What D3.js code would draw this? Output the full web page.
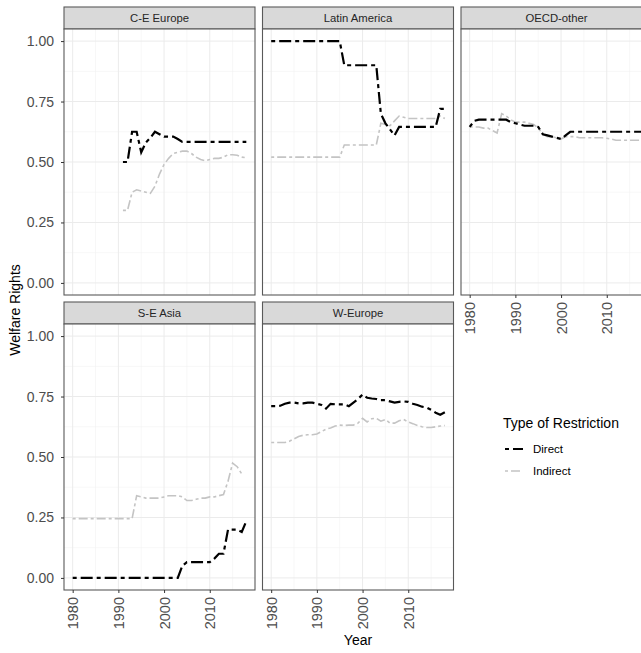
<!DOCTYPE html>
<html>
<head>
<meta charset="utf-8">
<script src="https://cdn.jsdelivr.net/npm/d3@7"></script>
<style>
  body { margin: 0; background: #fff; }
  svg { display: block; font-family: "Liberation Sans", Arial, sans-serif; }
</style>
</head>
<body>
<svg id="chart" width="641" height="653"></svg>
<script>

// years on the x axis (1980 - 2018)
var years = [1980, 1981, 1982, 1983, 1984, 1985, 1986, 1987, 1988, 1989,
             1990, 1991, 1992, 1993, 1994, 1995, 1996, 1997, 1998, 1999,
             2000, 2001, 2002, 2003, 2004, 2005, 2006, 2007, 2008, 2009,
             2010, 2011, 2012, 2013, 2014, 2015, 2016, 2017, 2018];

var regions = ["C-E Europe", "Latin America", "OECD-other", "S-E Asia", "W-Europe"];
var restrictionTypes = ["Direct", "Indirect"];

// welfare rights per year, null where there is no data
var ceEuropeDirect = [null, null, null, null, null, null, null, null, null, null, null,
  0.5, 0.5, 0.625, 0.625, 0.54, 0.58, 0.6, 0.625, 0.615, 0.605, 0.605, 0.605, 0.595, 0.583,
  0.583, 0.583, 0.583, 0.583, 0.583, 0.583, 0.583, 0.583, 0.583, 0.583, 0.583, 0.583, 0.583, 0.583];
var ceEuropeIndirect = [null, null, null, null, null, null, null, null, null, null, null,
  0.3, 0.3, 0.375, 0.385, 0.38, 0.375, 0.37, 0.4, 0.45, 0.49, 0.515, 0.535, 0.54, 0.545,
  0.545, 0.535, 0.52, 0.51, 0.505, 0.51, 0.515, 0.515, 0.52, 0.53, 0.53, 0.528, 0.52, 0.518];

var latinAmericaDirect = [1, 1, 1, 1, 1, 1, 1, 1, 1, 1, 1, 1, 1, 1, 1, 1,
  0.9, 0.9, 0.9, 0.9, 0.9, 0.9, 0.9, 0.9,
  0.7, 0.66, 0.635, 0.61,
  0.645, 0.645, 0.645, 0.645, 0.645, 0.645, 0.645, 0.645, 0.645, 0.72, 0.72];
var latinAmericaIndirect = [0.52, 0.52, 0.52, 0.52, 0.52, 0.52, 0.52, 0.52, 0.52, 0.52, 0.52, 0.52, 0.52, 0.52, 0.52, 0.52,
  0.57, 0.57, 0.57, 0.57, 0.57, 0.57, 0.57, 0.57,
  0.66, 0.655, 0.65, 0.67, 0.69, 0.685,
  0.68, 0.68, 0.68, 0.68, 0.68, 0.68, 0.68, 0.69, 0.68];

var oecdDirect = [0.645, 0.67, 0.675, 0.675, 0.675, 0.675, 0.675, 0.675, 0.675, 0.665,
  0.66, 0.655, 0.65, 0.65, 0.65, 0.645, 0.615, 0.61, 0.605, 0.6,
  0.595, 0.61, 0.625, 0.625, 0.625, 0.625, 0.625, 0.625, 0.625, 0.625,
  0.625, 0.625, 0.625, 0.625, 0.625, 0.625, 0.625, 0.625, 0.625];
var oecdIndirect = [0.645, 0.645, 0.645, 0.64, 0.64, 0.63, 0.62, 0.7, 0.69, 0.675,
  0.665, 0.665, 0.665, 0.66, 0.655, 0.64, 0.615, 0.605, 0.605, 0.6,
  0.595, 0.605, 0.605, 0.605, 0.6, 0.6, 0.6, 0.6, 0.6, 0.6,
  0.598, 0.595, 0.59, 0.59, 0.59, 0.59, 0.59, 0.59, 0.59];

var seAsiaDirect = [0, 0, 0, 0, 0, 0, 0, 0, 0, 0, 0, 0, 0, 0, 0, 0, 0, 0, 0, 0, 0, 0, 0, 0,
  0.05, 0.065, 0.065, 0.065, 0.065, 0.065, 0.065, 0.08, 0.1, 0.1, 0.2, 0.2, 0.2, 0.19, 0.235];
var seAsiaIndirect = [0.245, 0.245, 0.245, 0.245, 0.245, 0.245, 0.245, 0.245, 0.245, 0.245, 0.245, 0.245, 0.245, 0.245,
  0.34, 0.335, 0.33, 0.33, 0.33, 0.33, 0.335, 0.34, 0.34, 0.34, 0.335, 0.32, 0.32, 0.325,
  0.33, 0.33, 0.335, 0.335, 0.34, 0.345, 0.4, 0.475, 0.46, 0.43, null];

var wEuropeDirect = [0.71, 0.71, 0.712, 0.72, 0.725, 0.725, 0.722, 0.722, 0.725, 0.725,
  0.72, 0.715, 0.7, 0.72, 0.718, 0.718, 0.718, 0.71, 0.725, 0.74,
  0.758, 0.745, 0.742, 0.74, 0.735, 0.735, 0.73, 0.725, 0.728, 0.73,
  0.728, 0.72, 0.715, 0.708, 0.705, 0.695, 0.683, 0.675, 0.685];
var wEuropeIndirect = [0.56, 0.56, 0.56, 0.56, 0.565, 0.575, 0.585, 0.59, 0.592, 0.592,
  0.595, 0.605, 0.615, 0.62, 0.628, 0.632, 0.63, 0.632, 0.632, 0.64,
  0.66, 0.645, 0.658, 0.66, 0.648, 0.655, 0.64, 0.64, 0.65, 0.655,
  0.645, 0.638, 0.63, 0.625, 0.622, 0.622, 0.625, 0.628, 0.63];

var directSeries = [ceEuropeDirect, latinAmericaDirect, oecdDirect, seAsiaDirect, wEuropeDirect];
var indirectSeries = [ceEuropeIndirect, latinAmericaIndirect, oecdIndirect, seAsiaIndirect, wEuropeIndirect];

// axis ticks
var yTicks = [0, 0.25, 0.5, 0.75, 1];
var xTicks = [1980, 1990, 2000, 2010];

// line style per restriction type
var lineColor = {"Direct": "#000000", "Indirect": "#c4c4c4"};
var lineWidth = {"Direct": 2.2, "Indirect": 1.6};
var lineDash = {"Direct": "4,4,12,4", "Indirect": "3,3,9,3"};

var svg = d3.select("#chart");

// facet layout
var panelW = 191,
    panelH = 266,
    stripH = 22,
    left0 = 64,
    top0 = 7,
    colStep = 198.5,
    rowStep = 295;

var x = d3.scaleLinear()
    .domain([1978.1, 2019.9])
    .range([0, panelW]);

var y = d3.scaleLinear()
    .domain([-0.05, 1.05])
    .range([panelH, 0]);

var xMinor = [1985, 1995, 2005, 2015];
var yMinor = [0.125, 0.375, 0.625, 0.875];

var line = d3.line()
    .defined(function(d) { return d.v != null; })
    .x(function(d) { return x(d.year); })
    .y(function(d) { return y(d.v); });

regions.forEach(function(region, i) {

  var col = i % 3,
      row = Math.floor(i / 3);

  var g = svg.append("g")
      .attr("transform", "translate(" + (left0 + col * colStep) + "," + (top0 + row * rowStep) + ")");

  // strip with region name
  g.append("rect")
    .attr("x", 0).attr("y", 0)
    .attr("width", panelW).attr("height", stripH)
    .attr("fill", "#d9d9d9")
    .attr("stroke", "#595959")
    .attr("stroke-width", 1.1);

  g.append("text")
    .attr("x", panelW / 2)
    .attr("y", stripH / 2 + 4)
    .attr("text-anchor", "middle")
    .attr("font-size", "11.3px")
    .attr("fill", "#262626")
    .text(region);

  var p = g.append("g")
      .attr("transform", "translate(0," + stripH + ")");

  p.append("rect")
    .attr("width", panelW).attr("height", panelH)
    .attr("fill", "#fff");

  // minor grid
  p.selectAll(".xminor").data(xMinor).enter().append("line")
    .attr("x1", function(d) { return x(d); }).attr("x2", function(d) { return x(d); })
    .attr("y1", 0).attr("y2", panelH)
    .attr("stroke", "#f2f2f2").attr("stroke-width", 0.6);
  p.selectAll(".yminor").data(yMinor).enter().append("line")
    .attr("x1", 0).attr("x2", panelW)
    .attr("y1", function(d) { return y(d); }).attr("y2", function(d) { return y(d); })
    .attr("stroke", "#f2f2f2").attr("stroke-width", 0.6);

  // major grid
  p.selectAll(".xmajor").data(xTicks).enter().append("line")
    .attr("x1", function(d) { return x(d); }).attr("x2", function(d) { return x(d); })
    .attr("y1", 0).attr("y2", panelH)
    .attr("stroke", "#ebebeb").attr("stroke-width", 1);
  p.selectAll(".ymajor").data(yTicks).enter().append("line")
    .attr("x1", 0).attr("x2", panelW)
    .attr("y1", function(d) { return y(d); }).attr("y2", function(d) { return y(d); })
    .attr("stroke", "#ebebeb").attr("stroke-width", 1);

  // the two series
  var sets = [
    {type: "Indirect", values: indirectSeries[i]},
    {type: "Direct", values: directSeries[i]}
  ];

  sets.forEach(function(s) {
    var pts = years.map(function(yr, k) { return {year: yr, v: s.values[k]}; });
    p.append("path")
      .datum(pts)
      .attr("d", line)
      .attr("fill", "none")
      .attr("stroke", lineColor[s.type])
      .attr("stroke-width", lineWidth[s.type])
      .attr("stroke-dasharray", lineDash[s.type]);
  });

  // panel border
  p.append("rect")
    .attr("width", panelW).attr("height", panelH)
    .attr("fill", "none")
    .attr("stroke", "#595959")
    .attr("stroke-width", 1.1);

  // y axis on the left column
  if (col == 0) {
    var yAxis = p.append("g")
      .call(d3.axisLeft(y).tickValues(yTicks).tickSize(3).tickPadding(7).tickFormat(d3.format(".2f")));
    yAxis.select(".domain").remove();
    yAxis.selectAll("line").attr("stroke", "#333");
    yAxis.selectAll("text")
      .attr("font-size", "14px")
      .attr("font-family", "Liberation Sans, Arial, sans-serif")
      .attr("fill", "#4d4d4d");
  }

  // x axis under the lowest panel of each column
  if (row == 1 || col == 2) {
    var xAxis = p.append("g")
      .attr("transform", "translate(0," + panelH + ")")
      .call(d3.axisBottom(x).tickValues(xTicks).tickSize(3).tickFormat(d3.format("d")));
    xAxis.select(".domain").remove();
    xAxis.selectAll("line").attr("stroke", "#333");
    xAxis.selectAll("text")
      .attr("font-size", "14.5px")
      .attr("font-family", "Liberation Sans, Arial, sans-serif")
      .attr("fill", "#4d4d4d")
      .attr("text-anchor", "end")
      .attr("x", -7)
      .attr("y", 0)
      .attr("dy", "0.35em")
      .attr("transform", "rotate(-90)");
  }
});

// axis titles
svg.append("text")
  .attr("transform", "translate(20,310) rotate(-90)")
  .attr("text-anchor", "middle")
  .attr("font-size", "14px")
  .attr("fill", "#000")
  .text("Welfare Rights");

svg.append("text")
  .attr("x", 358)
  .attr("y", 645)
  .attr("text-anchor", "middle")
  .attr("font-size", "14px")
  .attr("fill", "#000")
  .text("Year");

// legend
var legend = svg.append("g")
    .attr("transform", "translate(503,428)");

legend.append("text")
  .attr("x", 0).attr("y", 0)
  .attr("font-size", "14px")
  .attr("fill", "#000")
  .text("Type of Restriction");

restrictionTypes.forEach(function(t, k) {
  var ly = 21 + k * 22;
  legend.append("line")
    .attr("x1", 2).attr("x2", 20)
    .attr("y1", ly).attr("y2", ly)
    .attr("stroke", lineColor[t])
    .attr("stroke-width", lineWidth[t])
    .attr("stroke-dasharray", lineDash[t]);
  legend.append("text")
    .attr("x", 30).attr("y", ly + 4)
    .attr("font-size", "11.5px")
    .attr("fill", "#000")
    .text(t);
});

</script>
</body>
</html>
